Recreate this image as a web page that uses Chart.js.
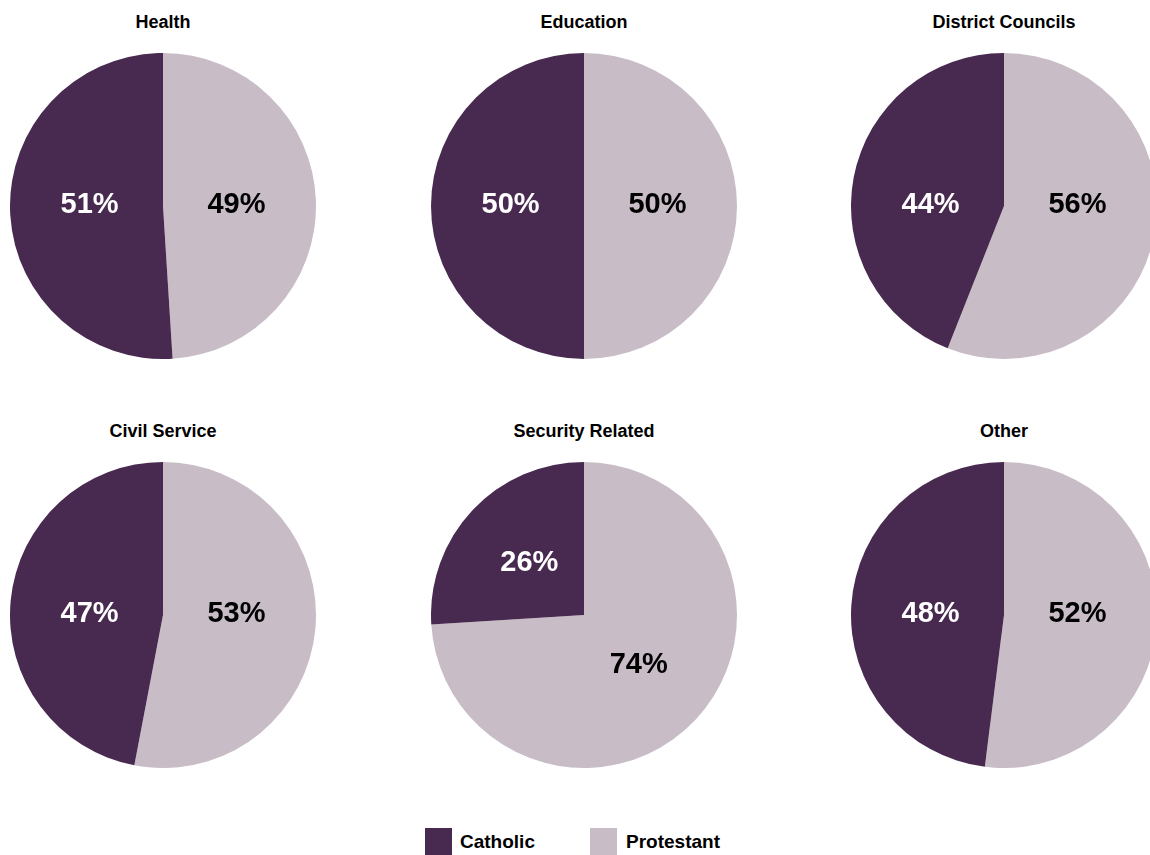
<!DOCTYPE html>
<html>
<head>
<meta charset="utf-8">
<script src="https://cdn.jsdelivr.net/npm/chart.js@4/dist/chart.umd.min.js"></script>
<style>
  html, body { margin: 0; padding: 0; background: #fff; overflow: hidden; }
  body { width: 1150px; height: 855px; position: relative; font-family: "Liberation Sans", Arial, sans-serif; }
  .panel { position: absolute; width: 306px; height: 306px; }
  .title { position: absolute; width: 300px; text-align: center; font-weight: bold; font-size: 18px; color: #000; line-height: 20px; }
  .sw { position: absolute; top: 828px; width: 27px; height: 27px; }
  .key { position: absolute; top: 831px; font-weight: bold; font-size: 19px; line-height: 22px; color: #000; }
</style>
</head>
<body>
<div class="sw" style="left:425px;background:#48294f"></div>
<div class="key" style="left:460px">Catholic</div>
<div class="sw" style="left:590px;background:#c8bdc7"></div>
<div class="key" style="left:626px">Protestant</div>
<script>
const sectors = ["Health", "Education", "District Councils", "Civil Service", "Security Related", "Other"];
const catholic = [51, 50, 44, 47, 26, 48];
const protestant = [49, 50, 56, 53, 74, 52];
const seriesLabels = ["Protestant", "Catholic"];

const CATHOLIC_COLOR = "#48294f";
const PROTESTANT_COLOR = "#c8bdc7";

// pie centres, row by row
const colX = [163, 584, 1004];
const rowY = [206, 615];

// "NN%" inside each slice, about half way out along the mid-angle;
// slices that face roughly sideways keep their label on the centre line
const sliceLabels = {
  id: "sliceLabels",
  afterDatasetsDraw(chart) {
    const { ctx } = chart;
    const meta = chart.getDatasetMeta(0);
    const ds = chart.data.datasets[0];
    ctx.save();
    ctx.font = "bold 29px 'Liberation Sans', Arial, sans-serif";
    ctx.textAlign = "center";
    ctx.textBaseline = "middle";
    meta.data.forEach((arc, i) => {
      const mid = (arc.startAngle + arc.endAngle) / 2;
      const d = arc.outerRadius * 0.49;
      let x = arc.x + Math.cos(mid) * d;
      let y = arc.y + Math.sin(mid) * d;
      if (Math.abs(Math.sin(mid)) < 0.35) {
        x = arc.x + Math.sign(Math.cos(mid)) * arc.outerRadius * 0.48;
        y = arc.y;
      }
      ctx.fillStyle = i === 1 ? "#ffffff" : "#000000";
      ctx.fillText(ds.data[i] + "%", x, y - 1);
    });
    ctx.restore();
  },
};

sectors.forEach((name, i) => {
  const cx = colX[i % 3];
  const cy = rowY[Math.floor(i / 3)];

  const title = document.createElement("div");
  title.className = "title";
  title.textContent = name;
  title.style.left = (cx - 150) + "px";
  title.style.top = (cy - 194) + "px";
  document.body.appendChild(title);

  const wrap = document.createElement("div");
  wrap.className = "panel";
  wrap.style.left = (cx - 153) + "px";
  wrap.style.top = (cy - 153) + "px";
  const canvas = document.createElement("canvas");
  canvas.width = 306;
  canvas.height = 306;
  wrap.appendChild(canvas);
  document.body.appendChild(wrap);

  new Chart(canvas, {
    type: "pie",
    data: {
      labels: seriesLabels,
      datasets: [{
        data: [protestant[i], catholic[i]],
        backgroundColor: [PROTESTANT_COLOR, CATHOLIC_COLOR],
        borderWidth: 0,
      }],
    },
    options: {
      responsive: false,
      animation: false,
      layout: { padding: 0 },
      plugins: {
        legend: { display: false },
        tooltip: { enabled: false },
      },
    },
    plugins: [sliceLabels],
  });
});
</script>
</body>
</html>
